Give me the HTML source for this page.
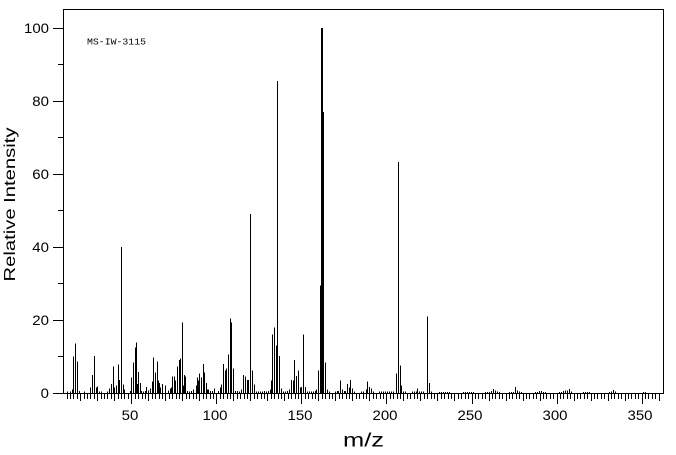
<!DOCTYPE html>
<html>
<head>
<meta charset="utf-8">
<style>
html,body{margin:0;padding:0;background:#fff;}
svg{display:block;}
text{fill:#000;}
</style>
</head>
<body>
<svg width="676" height="455" viewBox="0 0 676 455" xmlns="http://www.w3.org/2000/svg">
<rect x="0" y="0" width="676" height="455" fill="#fff"/>
<g stroke="#000" stroke-width="1" fill="none" shape-rendering="crispEdges">
<rect x="63.5" y="9.5" width="600" height="384"/>
<path d="M53 393.5H63M53 320.5H63M53 247.5H63M53 174.5H63M53 101.5H63M53 28.5H63M58 356.5H63M58 283.5H63M58 210.5H63M58 137.5H63M58 64.5H63"/>
<path d="M67.5 393v6M70.5 393v6M73.5 393v6M77.5 393v6M80.5 393v8M84.5 393v6M87.5 393v6M90.5 393v6M94.5 393v6M97.5 393v8M101.5 393v6M104.5 393v6M107.5 393v6M111.5 393v6M114.5 393v8M118.5 393v6M121.5 393v6M124.5 393v6M128.5 393v6
M131.5 393v11M135.5 393v6M138.5 393v6M142.5 393v6M145.5 393v6M148.5 393v8M152.5 393v6M155.5 393v6M159.5 393v6M162.5 393v6M165.5 393v8M169.5 393v6M172.5 393v6M176.5 393v6M179.5 393v6M182.5 393v8M186.5 393v6M189.5 393v6M193.5 393v6M196.5 393v6M199.5 393v8M203.5 393v6M206.5 393v6M210.5 393v6M213.5 393v6
M216.5 393v11M220.5 393v6M223.5 393v6M227.5 393v6M230.5 393v6M233.5 393v8M237.5 393v6M240.5 393v6M244.5 393v6M247.5 393v6M250.5 393v8M254.5 393v6M257.5 393v6M261.5 393v6M264.5 393v6M267.5 393v8M271.5 393v6M274.5 393v6M278.5 393v6M281.5 393v6M284.5 393v8M288.5 393v6M291.5 393v6M295.5 393v6M298.5 393v6
M301.5 393v11M305.5 393v6M308.5 393v6M312.5 393v6M315.5 393v6M318.5 393v8M322.5 393v6M325.5 393v6M329.5 393v6M332.5 393v6M335.5 393v8M339.5 393v6M342.5 393v6M346.5 393v6M349.5 393v6M352.5 393v8M356.5 393v6M359.5 393v6M363.5 393v6M366.5 393v6M369.5 393v8M373.5 393v6M376.5 393v6M380.5 393v6M383.5 393v6
M386.5 393v11M390.5 393v6M393.5 393v6M397.5 393v6M400.5 393v6M403.5 393v8M407.5 393v6M410.5 393v6M414.5 393v6M417.5 393v6M420.5 393v8M424.5 393v6M427.5 393v6M431.5 393v6M434.5 393v6M437.5 393v8M441.5 393v6M444.5 393v6M448.5 393v6M451.5 393v6M454.5 393v8M458.5 393v6M461.5 393v6M465.5 393v6M468.5 393v6
M472.5 393v11M475.5 393v6M478.5 393v6M482.5 393v6M485.5 393v6M489.5 393v8M492.5 393v6M495.5 393v6M499.5 393v6M502.5 393v6M506.5 393v8M509.5 393v6M512.5 393v6M516.5 393v6M519.5 393v6M523.5 393v8M526.5 393v6M529.5 393v6M533.5 393v6M536.5 393v6M540.5 393v8M543.5 393v6M546.5 393v6M550.5 393v6M553.5 393v6
M557.5 393v11M560.5 393v6M563.5 393v6M567.5 393v6M570.5 393v6M574.5 393v8M577.5 393v6M580.5 393v6M584.5 393v6M587.5 393v6M591.5 393v8M594.5 393v6M597.5 393v6M601.5 393v6M604.5 393v6M608.5 393v8M611.5 393v6M614.5 393v6M618.5 393v6M621.5 393v6M625.5 393v8M628.5 393v6M631.5 393v6M635.5 393v6M638.5 393v6
M642.5 393v11M645.5 393v6M648.5 393v6M652.5 393v6M655.5 393v6M659.5 393v8"/>
<path d="M67.5 393.5V391.5M70.5 393.5V391.5M72.5 393.5V389.4M73.5 393.5V356.5M75.5 393.5V343.7M77.5 393.5V361.6M79.5 393.5V391.2M84.5 393.5V391.5
M90.5 393.5V387.5M92.5 393.5V374.8M94.5 393.5V355.8M96.5 393.5V387.5M97.5 393.5V386.4M99.5 393.5V391.5M101.5 393.5V391.5M107.5 393.5V391.5
M109.5 393.5V388.6M111.5 393.5V383.9M113.5 393.5V366.7M114.5 393.5V387.5M116.5 393.5V385.7M118.5 393.5V364.5M119.5 393.5V379.9M121.5 393.5V247
M123.5 393.5V384.6M124.5 393.5V389.4M130.5 393.5V391.2M131.5 393.5V377.7M133.5 393.5V362.7M135.5 393.5V347.7M136.5 393.5V342.6M137.5 393.5V383.9
M138.5 393.5V371.8M140.5 393.5V382.8M141.5 393.5V391.2M143.5 393.5V391.5M145.5 393.5V390.8M146.5 393.5V386.8M148.5 393.5V390.4M150.5 393.5V388.6
M152.5 393.5V381.7M153.5 393.5V357.6M155.5 393.5V372.6M157.5 393.5V361.6M158.5 393.5V380.6M159.5 393.5V382.8M160.5 393.5V387.5M162.5 393.5V383.9
M165.5 393.5V385.7M168.5 393.5V390.4M170.5 393.5V388.6M171.5 393.5V387.5M172.5 393.5V376.6M174.5 393.5V376.6M175.5 393.5V380.6M177.5 393.5V366.7
M179.5 393.5V360.2M180.5 393.5V358.7M182.5 393.5V322.6M183.5 393.5V385.7M184.5 393.5V374.8M185.5 393.5V376.6M187.5 393.5V391.2M189.5 393.5V391.5
M191.5 393.5V391.2M193.5 393.5V389.4M196.5 393.5V385.7M197.5 393.5V377.7M198.5 393.5V380.6M199.5 393.5V373.7M201.5 393.5V377.7M203.5 393.5V363.8
M204.5 393.5V372.6M206.5 393.5V382.8M207.5 393.5V389.4M208.5 393.5V389.4M210.5 393.5V391.2M212.5 393.5V391.2M214.5 393.5V388.6M218.5 393.5V390.8
M220.5 393.5V387.5M221.5 393.5V384.6M223.5 393.5V363.8M225.5 393.5V370.7M226.5 393.5V368.5M228.5 393.5V354.7M230.5 393.5V318.5M231.5 393.5V322.6
M233.5 393.5V368.5M235.5 393.5V390.8M237.5 393.5V391.2M239.5 393.5V391.5M241.5 393.5V389.7M243.5 393.5V374.8M245.5 393.5V376.6M247.5 393.5V379.9
M248.5 393.5V379.9M250.5 393.5V214.2M252.5 393.5V370.7M254.5 393.5V384.6M256.5 393.5V391.5M258.5 393.5V391.5M260.5 393.5V391.5M262.5 393.5V391.5
M264.5 393.5V391.2M266.5 393.5V391.5M268.5 393.5V391.2M270.5 393.5V389.7M271.5 393.5V380.6M272.5 393.5V334.6M274.5 393.5V327.7M276.5 393.5V345.6
M277.5 393.5V80.9M279.5 393.5V355.8M281.5 393.5V388.6M283.5 393.5V391.5M285.5 393.5V391.5M287.5 393.5V391.2M289.5 393.5V389.7M291.5 393.5V379.9
M293.5 393.5V380.6M294.5 393.5V359.8M296.5 393.5V375.8M298.5 393.5V370.7M300.5 393.5V387.5M301.5 393.5V386.8M303.5 393.5V334.6M305.5 393.5V386.8
M307.5 393.5V391.5M309.5 393.5V391.5M311.5 393.5V391.5M313.5 393.5V391.5M315.5 393.5V391.2M316.5 393.5V389.4M318.5 393.5V370.7M320.5 393.5V285.3
M321.5 393.5V28M322.5 393.5V28M323.5 393.5V111.9M325.5 393.5V362.7M327.5 393.5V389.4M329.5 393.5V391.5M335.5 393.5V391.5M337.5 393.5V390.8
M338.5 393.5V390.8M340.5 393.5V380.6M342.5 393.5V389.7M344.5 393.5V391.2M345.5 393.5V391.2M347.5 393.5V383.9M349.5 393.5V387.5M350.5 393.5V379.9
M352.5 393.5V388.6M354.5 393.5V391.5M361.5 393.5V391.5M363.5 393.5V391.5M366.5 393.5V389.7M367.5 393.5V381.7M369.5 393.5V386.8M371.5 393.5V388.6
M373.5 393.5V391.5M379.5 393.5V391.5M381.5 393.5V391.5M383.5 393.5V391.5M385.5 393.5V391.5M387.5 393.5V391.5M389.5 393.5V391.5M391.5 393.5V391.5
M393.5 393.5V391.5M396.5 393.5V373.7M398.5 393.5V161.9M400.5 393.5V365.6M401.5 393.5V385.7M403.5 393.5V391.5M405.5 393.5V391.5M412.5 393.5V391.5
M414.5 393.5V391.5M416.5 393.5V391.5M417.5 393.5V388.6M419.5 393.5V391.5M421.5 393.5V391.5M423.5 393.5V391.5M427.5 393.5V316.7M429.5 393.5V382.8
M431.5 393.5V391.5M439.5 393.5V391.8M441.5 393.5V391.8M443.5 393.5V391.8M445.5 393.5V391.8M447.5 393.5V391.8M449.5 393.5V391.8
M463.5 393.5V391.8M465.5 393.5V391.8M467.5 393.5V391.8M469.5 393.5V391.8M471.5 393.5V391.8M473.5 393.5V391.8
M485.5 393.5V391.8M487.5 393.5V391.8M489.5 393.5V391.8M491.5 393.5V390.8M493.5 393.5V389M495.5 393.5V390.4M497.5 393.5V391.5M499.5 393.5V391.8
M509.5 393.5V391.8M511.5 393.5V391.8M513.5 393.5V391.8M515.5 393.5V387.2M517.5 393.5V390.4M519.5 393.5V391.5M521.5 393.5V391.8
M535.5 393.5V391.8M537.5 393.5V391.8M539.5 393.5V391.2M541.5 393.5V391.2M543.5 393.5V391.8M545.5 393.5V391.8
M559.5 393.5V391.8M561.5 393.5V391.8M563.5 393.5V391.2M565.5 393.5V390.4M567.5 393.5V390.4M569.5 393.5V389M571.5 393.5V391.5
M583.5 393.5V391.8M585.5 393.5V391.8M587.5 393.5V391.8M589.5 393.5V391.8
M609.5 393.5V391.8M611.5 393.5V391.5M613.5 393.5V390.1M615.5 393.5V391.5M643.5 393.5V391.8M645.5 393.5V391.8"/>
</g>
<g font-family="Liberation Sans, sans-serif" font-size="13.5">
<text x="49" y="398" text-anchor="end" textLength="8.3" lengthAdjust="spacingAndGlyphs">0</text>
<text x="49" y="325" text-anchor="end" textLength="16.7" lengthAdjust="spacingAndGlyphs">20</text>
<text x="49" y="252" text-anchor="end" textLength="16.7" lengthAdjust="spacingAndGlyphs">40</text>
<text x="49" y="179" text-anchor="end" textLength="16.7" lengthAdjust="spacingAndGlyphs">60</text>
<text x="49" y="106" text-anchor="end" textLength="16.7" lengthAdjust="spacingAndGlyphs">80</text>
<text x="49" y="33" text-anchor="end" textLength="25" lengthAdjust="spacingAndGlyphs">100</text>
<text x="130" y="420" text-anchor="middle" textLength="16.7" lengthAdjust="spacingAndGlyphs">50</text>
<text x="215" y="420" text-anchor="middle" textLength="25" lengthAdjust="spacingAndGlyphs">100</text>
<text x="300" y="420" text-anchor="middle" textLength="25" lengthAdjust="spacingAndGlyphs">150</text>
<text x="385" y="420" text-anchor="middle" textLength="25" lengthAdjust="spacingAndGlyphs">200</text>
<text x="470" y="420" text-anchor="middle" textLength="25" lengthAdjust="spacingAndGlyphs">250</text>
<text x="555" y="420" text-anchor="middle" textLength="25" lengthAdjust="spacingAndGlyphs">300</text>
<text x="640" y="420" text-anchor="middle" textLength="25" lengthAdjust="spacingAndGlyphs">350</text>
</g>
<text x="87" y="44.3" font-family="Liberation Mono, monospace" font-size="9" textLength="59" lengthAdjust="spacingAndGlyphs">MS-IW-3115</text>
<text x="363.5" y="446.5" font-family="Liberation Sans, sans-serif" font-size="19" text-anchor="middle" textLength="41" lengthAdjust="spacingAndGlyphs">m/z</text>
<text transform="translate(15,204.5) rotate(-90)" font-family="Liberation Sans, sans-serif" font-size="15.5" text-anchor="middle" textLength="154" lengthAdjust="spacingAndGlyphs">Relative Intensity</text>
</svg>
</body>
</html>
